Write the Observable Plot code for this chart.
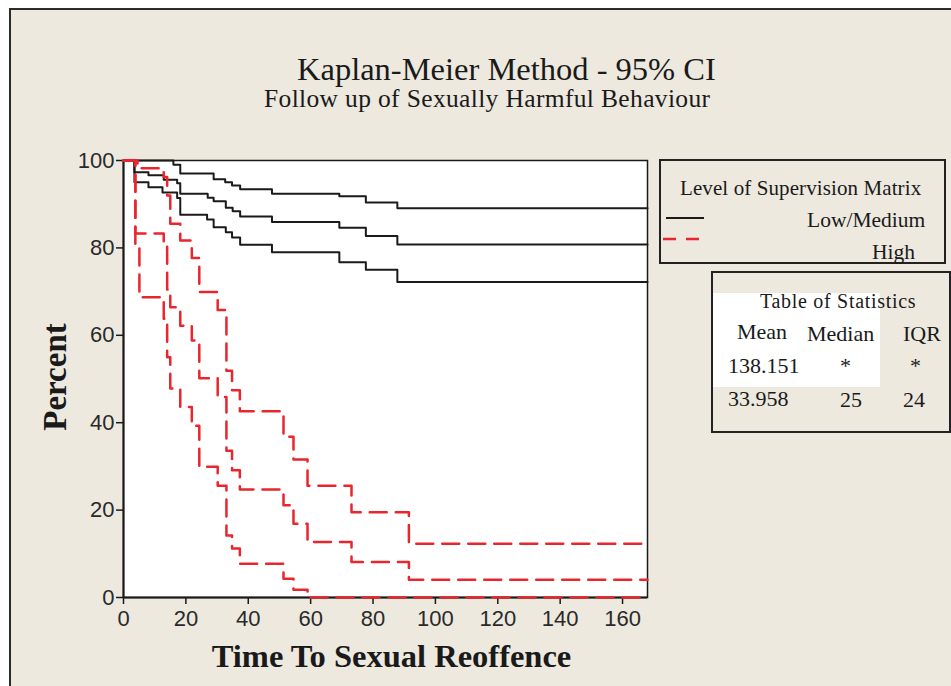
<!DOCTYPE html>
<html><head><meta charset="utf-8">
<script src="https://cdn.jsdelivr.net/npm/d3@7"></script>
<script src="https://cdn.jsdelivr.net/npm/@observablehq/plot@0.6"></script>
<style>
html,body{margin:0;padding:0;background:#fff;overflow:hidden;}
#wrap{position:relative;width:951px;height:686px;overflow:hidden;background:#fff;}
#panel{position:absolute;left:9px;top:8px;width:1000px;height:800px;background:#EDE9DF;border:2px solid #2b2b2b;}
#chart{position:absolute;left:0;top:0;}
.t{position:absolute;font-family:"Liberation Serif","Times New Roman",serif;color:#1a1a1a;white-space:nowrap;line-height:1;}
.box{position:absolute;border:2px solid #222;background:#EDE9DF;box-sizing:border-box;}
</style></head><body>
<div id="wrap">
<div id="panel"></div>
<div id="chart"></div>
<div class="t" style="left:297px;top:53px;font-size:32.5px;">Kaplan-Meier Method - 95% CI</div>
<div class="t" style="left:264px;top:86px;font-size:25.5px;letter-spacing:0.35px;">Follow up of Sexually Harmful Behaviour</div>
<div class="box" style="left:659px;top:159px;width:287px;height:105px;"></div>
<div class="t" style="left:680px;top:178px;font-size:21px;letter-spacing:0.1px;">Level of Supervision Matrix</div>
<svg style="position:absolute;left:660px;top:210px;" width="50" height="40">
  <line x1="6" x2="44" y1="8" y2="8" stroke="#1a1a1a" stroke-width="2"/>
  <line x1="3" x2="41" y1="29" y2="29" stroke="#e8262e" stroke-width="2.5" stroke-dasharray="13,10"/>
</svg>
<div class="t" style="left:807px;top:210px;font-size:21.5px;">Low/Medium</div>
<div class="t" style="left:872px;top:242px;font-size:21.5px;">High</div>
<div class="box" style="left:711px;top:271px;width:240px;height:162px;"></div>
<div style="position:absolute;left:713px;top:293px;width:167px;height:94px;background:#fff;"></div>
<div class="t" style="left:760px;top:291px;font-size:20px;letter-spacing:0.7px;">Table of Statistics</div>
<div class="t" style="left:737px;top:321px;font-size:22px;">Mean</div>
<div class="t" style="left:807px;top:323px;font-size:22px;">Median</div>
<div class="t" style="left:903px;top:323px;font-size:22px;">IQR</div>
<div class="t" style="left:728px;top:355px;font-size:22px;">138.151</div>
<div class="t" style="left:840px;top:355px;font-size:22px;">*</div>
<div class="t" style="left:910px;top:355px;font-size:22px;">*</div>
<div class="t" style="left:728px;top:388px;font-size:22px;">33.958</div>
<div class="t" style="left:840px;top:389px;font-size:22px;">25</div>
<div class="t" style="left:903px;top:389px;font-size:22px;">24</div>
</div>
<script>
// Tick labels
const xTicks = [0, 20, 40, 60, 80, 100, 120, 140, 160];
const yTicks = [0, 20, 40, 60, 80, 100];

// Low/Medium supervision: Kaplan-Meier estimate and 95% CI (time, percent)
const lowMedUpperTime = [0, 16, 18.2, 28.9, 32.6, 34.8, 37.4, 47.6, 69.2, 77.7, 87.8, 168];
const lowMedUpperPct  = [100, 99.0, 97.0, 95.7, 95.0, 94.3, 93.4, 92.4, 91.8, 90.4, 89.1, 89.1];
const lowMedEstTime = [0, 3.5, 8, 12.9, 17.2, 18.2, 27, 28.9, 32.8, 35, 37.4, 47.6, 69.2, 77.7, 87.8, 168];
const lowMedEstPct  = [100, 97.3, 96.6, 95.6, 94.8, 92.4, 91.5, 90.7, 89.2, 88.4, 87.2, 85.9, 84.6, 82.7, 80.8, 80.8];
const lowMedLowerTime = [0, 3.5, 8, 12.5, 17.2, 18.2, 26.8, 28.9, 32.8, 34.8, 37.4, 47.6, 69.2, 77.7, 87.8, 168];
const lowMedLowerPct  = [100, 95.0, 93.9, 92.7, 91.4, 87.6, 86.5, 84.7, 83.6, 82.4, 80.7, 79.0, 76.7, 75.0, 72.2, 72.2];

// High supervision: Kaplan-Meier estimate and 95% CI (time, percent)
const highUpperTime = [0, 4.5, 12.9, 14, 15, 18.2, 21.9, 24.3, 30.2, 33, 34.8, 37.3, 51.3, 54.5, 59, 73.1, 91.5, 168];
const highUpperPct  = [100, 98.2, 96.2, 92, 85.5, 81.7, 77.7, 69.9, 65.8, 51.9, 47.4, 42.6, 36.8, 31.6, 25.6, 19.5, 12.3, 12.3];
const highEstTime = [0, 3.8, 12.9, 14, 15, 18.2, 21.9, 24.3, 30.2, 33, 34.8, 37.3, 51.3, 54.5, 59, 73.1, 91.5, 168];
const highEstPct  = [100, 83.3, 80.5, 70.5, 66.4, 62.2, 58.8, 50.2, 45.9, 33.6, 29.1, 24.7, 21.1, 16.9, 12.7, 8.1, 4.05, 4.05];
const highLowerTime = [0, 3.8, 5.1, 12.9, 14, 15, 18.2, 21.9, 24.3, 30.2, 33, 34.8, 37.3, 51.3, 54.5, 59, 168];
const highLowerPct  = [100, 80.3, 68.7, 63.8, 55, 47.8, 43.6, 39.3, 29.9, 25.6, 14.2, 11.2, 7.7, 4.3, 1.8, 0, 0];

const toRows = (times, pcts, curve) => times.map((t, i) => ({t, p: pcts[i], curve}));
const blackRows = [
  ...toRows(lowMedUpperTime, lowMedUpperPct, "upper"),
  ...toRows(lowMedEstTime, lowMedEstPct, "est"),
  ...toRows(lowMedLowerTime, lowMedLowerPct, "lower")
];
const redRows = [
  ...toRows(highUpperTime, highUpperPct, "upper"),
  ...toRows(highEstTime, highEstPct, "est"),
  ...toRows(highLowerTime, highLowerPct, "lower")
];

const serif = "Liberation Serif, Times New Roman, serif";
const chart = Plot.plot({
  width: 951, height: 686,
  marginLeft: 123, marginRight: 304, marginTop: 160, marginBottom: 89,
  style: {background: "transparent", fontFamily: "Liberation Sans, Arial, sans-serif", color: "#1a1a1a", overflow: "visible"},
  x: {domain: [0, 168]},
  y: {domain: [0, 100]},
  marks: [
    Plot.frame({fill: "white", stroke: "#1a1a1a", strokeWidth: 1.5}),
    Plot.axisX({ticks: xTicks, tickSize: 7, tickPadding: 6, fontSize: 22, label: null, stroke: "#1a1a1a", strokeWidth: 1.5, fill: "#2a2a2a"}),
    Plot.axisY({ticks: yTicks, tickSize: 7, tickPadding: 2, fontSize: 22, label: null, stroke: "#1a1a1a", strokeWidth: 1.5, fill: "#2a2a2a"}),
    Plot.ruleX([0], {stroke: "#1a1a1a", strokeWidth: 2}),
    Plot.ruleY([0], {stroke: "#1a1a1a", strokeWidth: 2}),
    Plot.line(blackRows, {x: "t", y: "p", z: "curve", curve: "step-after", stroke: "#1a1a1a", strokeWidth: 2}),
    Plot.line(redRows, {x: "t", y: "p", z: "curve", curve: "step-after", stroke: "#e8262e", strokeWidth: 2.5, strokeDasharray: "17,9"}),
    Plot.text(["Time To Sexual Reoffence"], {frameAnchor: "bottom", dx: 6, dy: 69, fontSize: 32.5, fontWeight: "bold", fontFamily: serif, fill: "#1a1a1a"}),
    Plot.text(["Percent"], {frameAnchor: "left", textAnchor: "middle", dx: -68, dy: -2, rotate: -90, fontSize: 33, fontWeight: "bold", fontFamily: serif, fill: "#1a1a1a"})
  ]
});
document.getElementById("chart").appendChild(chart);
</script>
</body></html>
